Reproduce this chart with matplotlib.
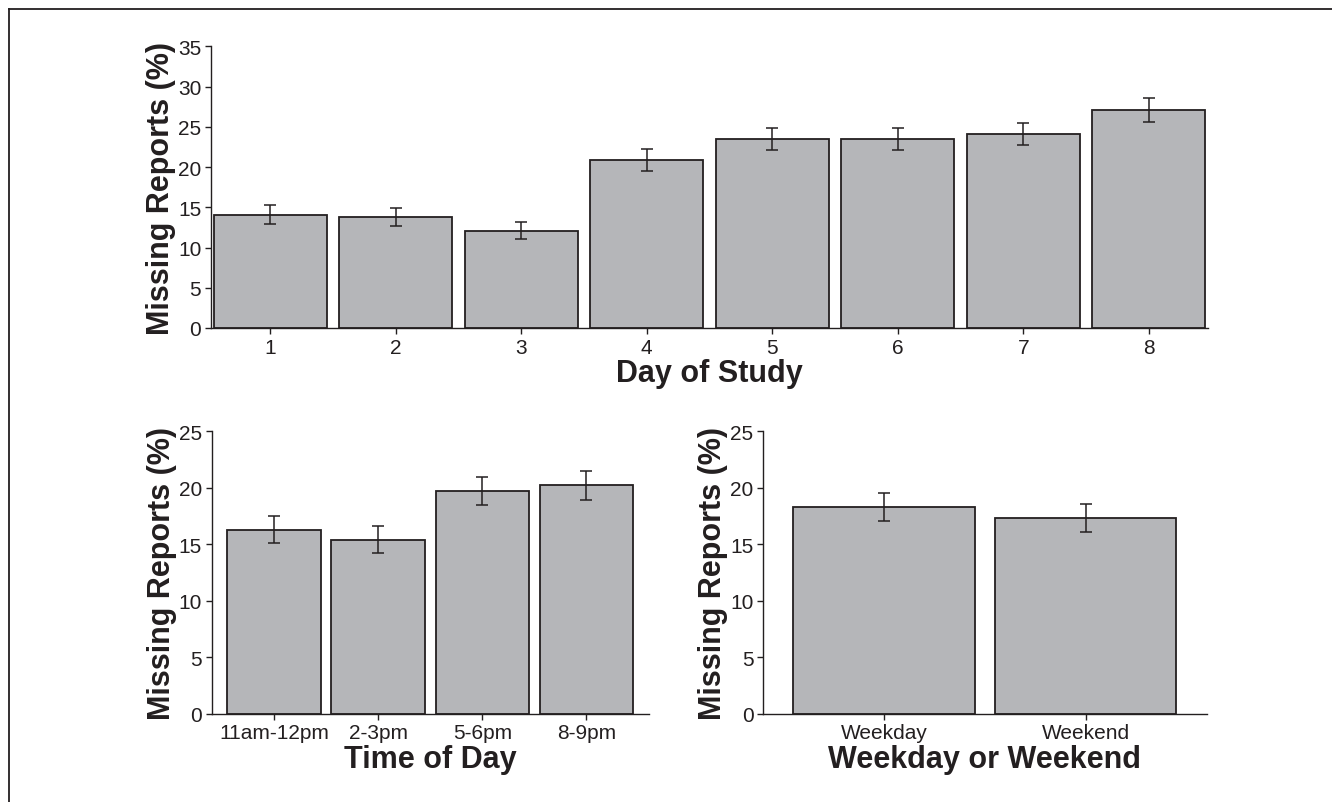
import numpy as np
from matplotlib import pyplot as plt
from matplotlib.lines import Line2D

plt.rcParams['font.family'] = ['Liberation Sans', 'DejaVu Sans']

# values (percent missing, +/- error)
days = ["1", "2", "3", "4", "5", "6", "7", "8"]
day_pct = [14.1, 13.8, 12.1, 20.9, 23.5, 23.5, 24.1, 27.1]
day_err = [1.15, 1.1, 1.05, 1.35, 1.4, 1.4, 1.4, 1.45]

times = ["11am-12pm", "2-3pm", "5-6pm", "8-9pm"]
time_pct = [16.3, 15.4, 19.7, 20.2]
time_err = [1.2, 1.2, 1.27, 1.3]

daytype = ["Weekday", "Weekend"]
daytype_pct = [18.3, 17.3]
daytype_err = [1.24, 1.22]

dark = "#231f20"
bar_col = "#b5b6b9"

fig = plt.figure(figsize=(13.32, 8.03), dpi=100)

# thin frame on top and left edge of the page
fig.add_artist(Line2D([8.5 / 1332, 1], [1 - 9.5 / 803, 1 - 9.5 / 803], color=dark, lw=1.3))
fig.add_artist(Line2D([8.5 / 1332, 8.5 / 1332], [0, 1 - 9.5 / 803], color=dark, lw=1.3))


def bar_panel(ax, labels, vals, errs, ymax, xlabel, margin, ylab_x, xlab_y):
    x = np.arange(1, len(labels) + 1)
    ax.bar(x, vals, width=0.9, color=bar_col, edgecolor=dark, linewidth=1.3, zorder=2)
    ax.errorbar(x, vals, yerr=errs, fmt="none", ecolor=dark, elinewidth=1.1,
                capsize=4, capthick=1.1, zorder=3)
    ax.set_xlim(1 - margin, len(labels) + margin)
    ax.set_ylim(0, ymax)
    ax.set_yticks(np.arange(0, ymax + 1, 5))
    ax.set_xticks(x)
    ax.set_xticklabels(labels)
    for s in ["top", "right"]:
        ax.spines[s].set_visible(False)
    for s in ["left", "bottom"]:
        ax.spines[s].set_color(dark)
        ax.spines[s].set_linewidth(1.0)
    ax.tick_params(direction="out", length=4, width=1, color=dark,
                   labelsize=15, labelcolor=dark, pad=3)
    ax.set_ylabel("Missing Reports (%)", fontsize=22, fontweight="bold", color=dark)
    ax.set_xlabel(xlabel, fontsize=22, fontweight="bold", color=dark, va="top")
    ax.yaxis.set_label_coords(ylab_x, 0.5)
    ax.xaxis.set_label_coords(0.5, xlab_y)


ax1 = fig.add_axes([0.1584, 0.5903, 0.7485, 0.3508])
bar_panel(ax1, days, day_pct, day_err, 35, "Day of Study", 0.47, -0.035, -0.106)

ax2 = fig.add_axes([0.1589, 0.11, 0.3283, 0.3517])
bar_panel(ax2, times, time_pct, time_err, 25, "Time of Day", 0.6, -0.080, -0.108)

ax3 = fig.add_axes([0.5730, 0.11, 0.3329, 0.3517])
bar_panel(ax3, daytype, daytype_pct, daytype_err, 25, "Weekday or Weekend", 0.6, -0.079, -0.108)

plt.savefig("out.png", dpi=100)
